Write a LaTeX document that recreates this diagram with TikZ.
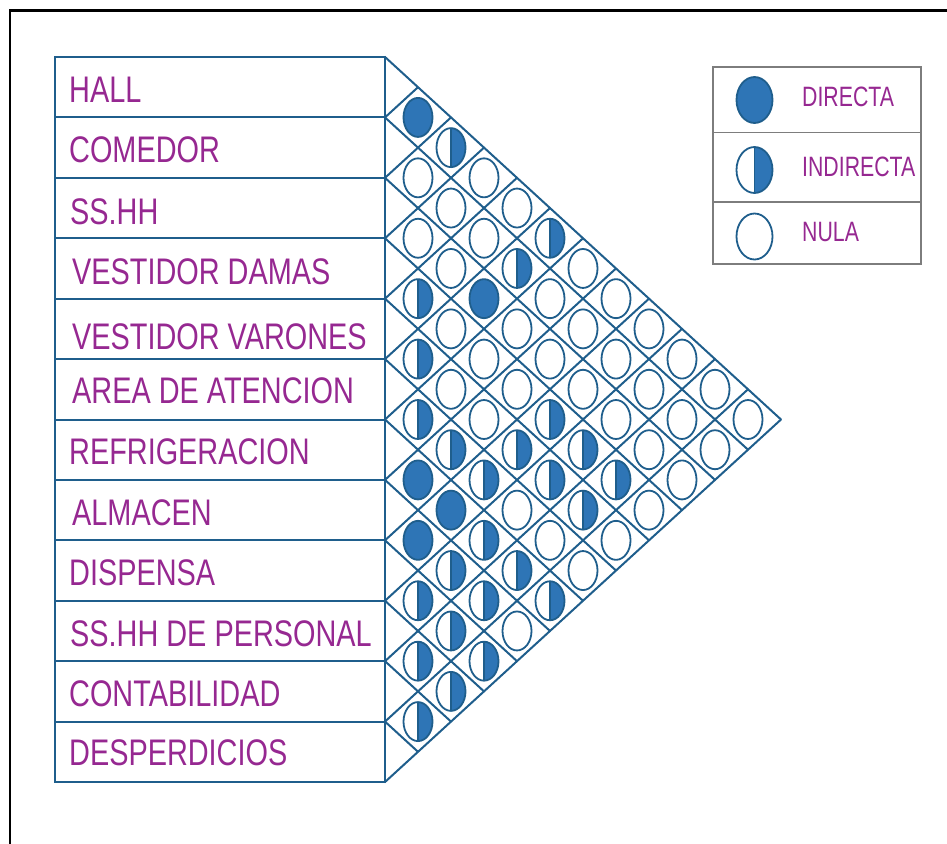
\documentclass[tikz,border=0pt]{standalone}
\usepackage{fontspec}
\newfontfamily\narrowfont[FakeStretch=0.78]{Liberation Sans}
\newfontfamily\legfont[FakeStretch=0.76]{Liberation Sans}
\definecolor{linec}{RGB}{31,94,140}
\definecolor{bluef}{RGB}{46,117,182}
\definecolor{txtc}{RGB}{150,40,145}
\definecolor{legc}{RGB}{125,125,125}
\begin{document}
\begin{tikzpicture}[x=1pt,y=-1pt,
  gridline/.style={draw=linec,line width=2pt},
  circ/.style={draw=linec,line width=1.8pt},
  lbl/.style={anchor=base west,inner sep=0pt,text=txtc,font=\narrowfont\fontsize{37}{40}\selectfont},
  leglbl/.style={anchor=base west,inner sep=0pt,text=txtc,font=\legfont\fontsize{28}{30}\selectfont}]
\useasboundingbox (0,0) rectangle (947,843);
% outer frame
\draw[black,line width=2.6pt] (10,845) -- (10,10.5) -- (950,10.5);
% label box
\draw[gridline] (55,57) rectangle (385,782);
\foreach \k in {1,...,11}{
  \pgfmathsetmacro\yk{57+60.4167*\k}
  \draw[gridline] (55,\yk) -- (385,\yk);
}
% diamond grid
\foreach \k in {0,...,12}{
  \pgfmathsetmacro\yk{57+60.4167*\k}
  \pgfmathsetmacro\xa{385+33*(12-\k)}
  \pgfmathsetmacro\ya{\yk+30.2083*(12-\k)}
  \pgfmathsetmacro\xb{385+33*\k}
  \pgfmathsetmacro\yb{\yk-30.2083*\k}
  \draw[gridline,line cap=round] (385,\yk) -- (\xa,\ya);
  \draw[gridline,line cap=round] (385,\yk) -- (\xb,\yb);
}
% relationship marks: 2 = directa, 1 = indirecta, 0 = nula
\foreach \i/\j/\t in {1/2/2, 1/3/1,
  2/3/0, 1/4/0,
  2/4/0, 1/5/0,
  3/4/0, 2/5/0, 1/6/1,
  3/5/0, 2/6/1, 1/7/0,
  4/5/1, 3/6/2, 2/7/0, 1/8/0,
  4/6/0, 3/7/0, 2/8/0, 1/9/0,
  5/6/1, 4/7/0, 3/8/0, 2/9/0, 1/10/0,
  5/7/0, 4/8/0, 3/9/0, 2/10/0, 1/11/0,
  6/7/1, 5/8/0, 4/9/1, 3/10/0, 2/11/0, 1/12/0,
  6/8/1, 5/9/1, 4/10/1, 3/11/0, 2/12/0,
  7/8/2, 6/9/1, 5/10/1, 4/11/1, 3/12/0,
  7/9/2, 6/10/0, 5/11/1, 4/12/0,
  8/9/2, 7/10/1, 6/11/0, 5/12/0,
  8/10/1, 7/11/1, 6/12/0,
  9/10/1, 8/11/1, 7/12/1,
  9/11/1, 8/12/0,
  10/11/1, 9/12/1,
  10/12/1,
  11/12/1}{
  \pgfmathsetmacro\cx{385+33*(\j-\i)}
  \pgfmathsetmacro\cy{57+30.2083*(\i+\j-1)}
  \ifnum\t=2
    \fill[bluef] (\cx,\cy) ellipse[x radius=14.5pt,y radius=19.5pt];
  \fi
  \ifnum\t=1
    \begin{scope}
      \clip (\cx,\cy-25) rectangle (\cx+20,\cy+25);
      \fill[bluef] (\cx,\cy) ellipse[x radius=14.5pt,y radius=19.5pt];
    \end{scope}
    \draw[circ] (\cx,\cy-19.5) -- (\cx,\cy+19.5);
  \fi
  \draw[circ] (\cx,\cy) ellipse[x radius=14.5pt,y radius=19.5pt];
}
% row labels
\node[lbl] (l1) at (69,102) {HALL};
\node[lbl] (l2) at (69,162) {COMEDOR};
\node[lbl] (l3) at (70,224) {SS.HH};
\node[lbl] (l4) at (72,284) {VESTIDOR DAMAS};
\node[lbl] (l5) at (72,349) {VESTIDOR VARONES};
\node[lbl] (l6) at (72,403) {AREA DE ATENCION};
\node[lbl] (l7) at (69,464) {REFRIGERACION};
\node[lbl] (l8) at (72,525) {ALMACEN};
\node[lbl] (l9) at (69,585) {DISPENSA};
\node[lbl] (l10) at (70,646) {SS.HH DE PERSONAL};
\node[lbl] (l11) at (69,706) {CONTABILIDAD};
\node[lbl] (l12) at (69,765) {DESPERDICIOS};
% legend
\draw[legc,line width=1.4pt] (713,67) rectangle (921,264);
\draw[legc,line width=1.4pt] (713,132.5) -- (921,132.5);
\draw[legc,line width=1.4pt] (713,202) -- (921,202);
\fill[bluef] (754.5,100) ellipse[x radius=18pt,y radius=23pt];
\draw[circ] (754.5,100) ellipse[x radius=18pt,y radius=23pt];
\begin{scope}
  \clip (754.5,140) rectangle (780,200);
  \fill[bluef] (754.5,170) ellipse[x radius=18pt,y radius=23pt];
\end{scope}
\draw[circ] (754.5,147) -- (754.5,193);
\draw[circ] (754.5,170) ellipse[x radius=18pt,y radius=23pt];
\draw[circ] (754.5,236.5) ellipse[x radius=18pt,y radius=23pt];
\node[leglbl] (g1) at (802,106.7) {DIRECTA};
\node[leglbl] (g2) at (802,176.7) {INDIRECTA};
\node[leglbl] (g3) at (802,241.7) {NULA};
\end{tikzpicture}
\end{document}
